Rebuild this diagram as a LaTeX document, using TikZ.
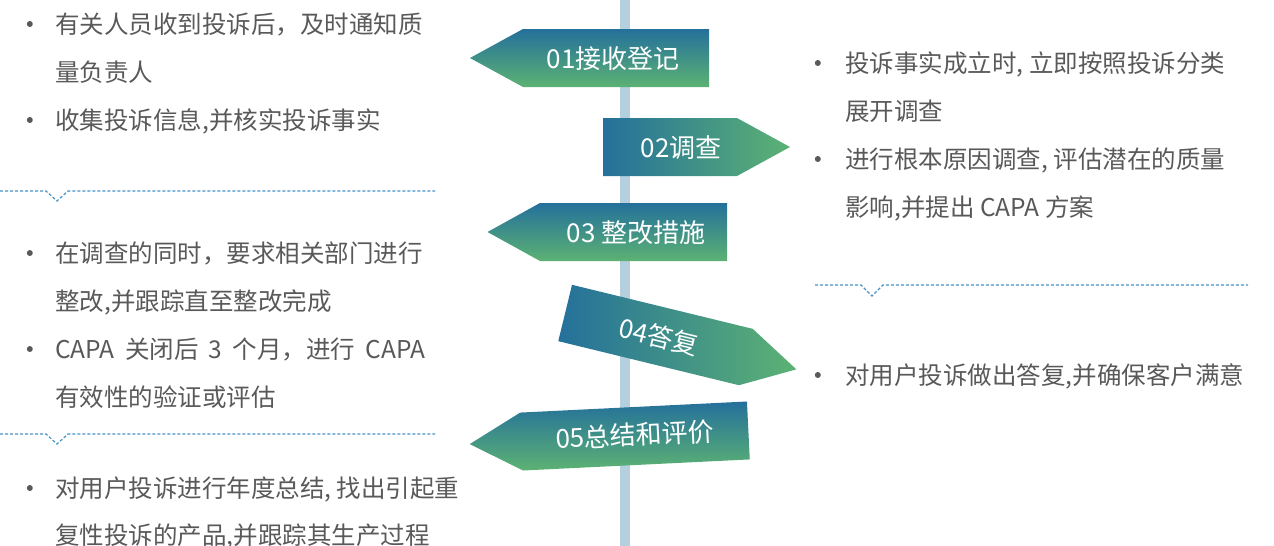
\documentclass[tikz,border=0pt]{standalone}
\usepackage{fontspec}
\setmainfont{Noto Sans CJK SC}
\usetikzlibrary{positioning}

\definecolor{polegray}{RGB}{180,207,222}
\definecolor{signblue}{RGB}{36,112,155}
\definecolor{signgreen}{RGB}{92,178,115}
\definecolor{bodygray}{RGB}{89,89,89}
\definecolor{dotblue}{RGB}{68,146,199}

\begin{document}
\begin{tikzpicture}[
  x=1pt, y=-1pt,
  node distance=48pt,
  signtext/.style={text=white, font=\fontsize{26}{30}\selectfont, inner sep=0pt},
  item/.style={anchor=base west, text=bodygray, font=\fontsize{24.5}{28}\selectfont, inner sep=0pt},
  dot/.style={circle, fill=bodygray, minimum size=6pt, inner sep=0pt, yshift=9pt},
  vshade/.style={top color=signblue, bottom color=signgreen},
  hshade/.style={left color=signblue, right color=signgreen},
  divider/.style={dotblue, line width=1.2pt, dash pattern=on 3pt off 2pt}
]
\useasboundingbox (0,0) rectangle (1274,546);

% post
\fill[polegray] (620,0) rectangle (630,546);

% signs
\begin{scope}[shift={(616,58)}]
  \shade[vshade] (-93,-29) -- (93,-29) -- (93,29) -- (-93,29) -- (-146,0) -- cycle;
\end{scope}
\begin{scope}[shift={(670,147)}]
  \shade[hshade] (-67,-29) -- (67,-29) -- (120,0) -- (67,29) -- (-67,29) -- cycle;
\end{scope}
\begin{scope}[shift={(633.5,232)}]
  \shade[vshade] (-93.5,-29) -- (93.5,-29) -- (93.5,29) -- (-93.5,29) -- (-146,0) -- cycle;
\end{scope}
\begin{scope}[shift={(655.5,335)}, rotate=-13.7]
  \shade[hshade] (-93,-29) -- (93,-29) -- (145,0) -- (93,29) -- (-93,29) -- cycle;
  \node[signtext, rotate=-13.7] (reply) at (4,1) {04答复};
\end{scope}
\begin{scope}[shift={(635,436)}, rotate=2.8]
  \shade[vshade] (-113.5,-29) -- (113.5,-29) -- (113.5,29) -- (-113.5,29) -- (-165.5,0) -- cycle;
  \node[signtext, rotate=2.8] (review) at (0,-1) {05总结和评价};
\end{scope}

\node[signtext] (recv) at (613,59) {01接收登记};
\node[signtext] (invest) at (681,148) {02调查};
\node[signtext] (rectify) at (636,233) {03 整改措施};

% dividers
\draw[divider] (0,191) -- (46,191) -- (57,201) -- (68,191) -- (435,191);
\draw[divider] (0,434) -- (46,434) -- (57,444) -- (68,434) -- (435,434);
\draw[divider] (815,285) -- (861,285) -- (872,296) -- (883,285) -- (1248,285);

% left notes
\node[item] (recvA) at (55,33) {有关人员收到投诉后，及时通知质};
\node[below=of recvA.base west, item] (recvB) {量负责人};
\node[below=of recvB.base west, item] (recvC) {收集投诉信息,并核实投诉事实};
\node[dot, left=22pt of recvA.base west] (dotA) {};
\node[dot, left=22pt of recvC.base west] (dotC) {};

\node[item] (rectA) at (55,262) {在调查的同时，要求相关部门进行};
\node[below=of rectA.base west, item] (rectB) {整改,并跟踪直至整改完成};
\node[below=of rectB.base west, item] (rectC) {\makebox[370pt][s]{CAPA 关闭后 3 个月，进行 CAPA}};
\node[below=of rectC.base west, item] (rectD) {有效性的验证或评估};
\node[dot, left=22pt of rectA.base west] (dotE) {};
\node[dot, left=22pt of rectC.base west] (dotG) {};

\node[item] (revA) at (55,497) {对用户投诉进行年度总结, 找出引起重};
\node[below=47pt of revA.base west, item] (revB) {复性投诉的产品,并跟踪其生产过程};
\node[dot, left=22pt of revA.base west] (dotI) {};

% right notes
\node[item] (invA) at (845,72) {投诉事实成立时, 立即按照投诉分类};
\node[below=of invA.base west, item] (invB) {展开调查};
\node[below=of invB.base west, item] (invC) {进行根本原因调查, 评估潜在的质量};
\node[below=of invC.base west, item] (invD) {影响,并提出 CAPA 方案};
\node[dot, left=24pt of invA.base west] (dotK) {};
\node[dot, left=24pt of invC.base west] (dotM) {};

\node[item] (repA) at (845,384) {对用户投诉做出答复,并确保客户满意};
\node[dot, left=24pt of repA.base west] (dotO) {};
\end{tikzpicture}
\end{document}
